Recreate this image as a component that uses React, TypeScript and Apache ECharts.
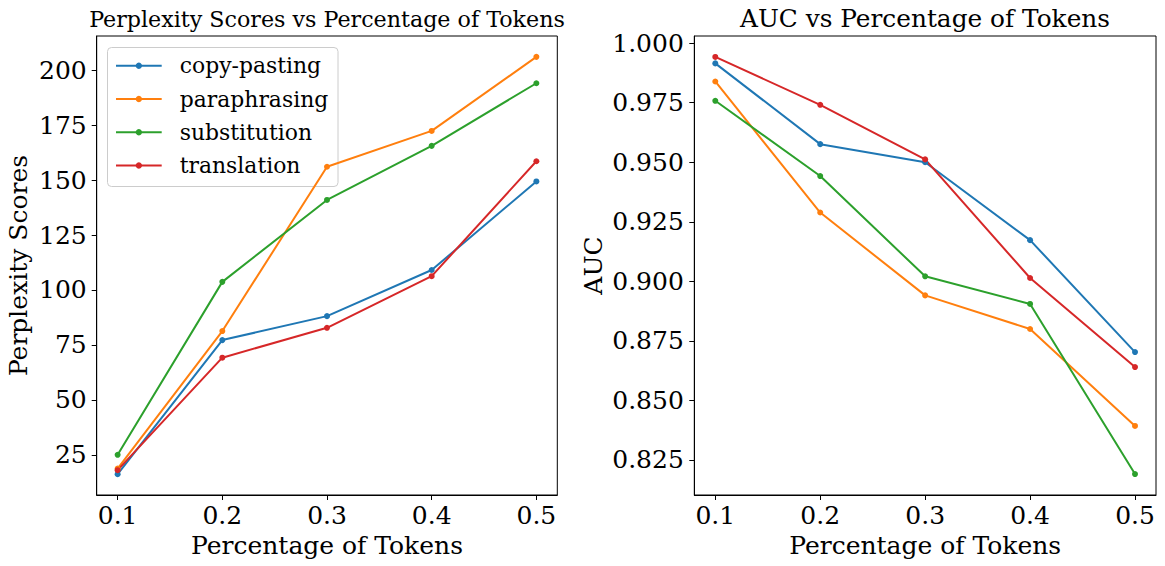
import React, { useEffect, useRef } from "react";
import * as echarts from "echarts";

const xValues = [0.1, 0.2, 0.3, 0.4, 0.5];
const seriesNames = ["copy-pasting", "paraphrasing", "substitution", "translation"];
const colors = ["#1f77b4", "#ff7f0e", "#2ca02c", "#d62728"];

const pplCopy = [16.2, 77.2, 88.1, 109.1, 149.4];
const pplPara = [18.7, 81.3, 156.1, 172.4, 206.1];
const pplSubst = [25.0, 103.7, 141.0, 165.6, 194.1];
const pplTrans = [18.0, 69.2, 82.8, 106.3, 158.6];

const aucCopy = [0.9915, 0.9576, 0.95, 0.9173, 0.8703];
const aucPara = [0.9839, 0.9289, 0.8941, 0.88, 0.8393];
const aucSubst = [0.9758, 0.9442, 0.9021, 0.8905, 0.8191];
const aucTrans = [0.9942, 0.9741, 0.9512, 0.9014, 0.864];

const xTicks = [0.1, 0.2, 0.3, 0.4, 0.5];
const pplTicks = [25, 50, 75, 100, 125, 150, 175, 200];
const aucTicks = [0.825, 0.85, 0.875, 0.9, 0.925, 0.95, 0.975, 1.0];

const FONT = "DejaVu Serif";
const TICK_FS = 25;
const LABEL_FS = 25;

export default function App() {
  const ref = useRef<HTMLDivElement>(null);
  useEffect(() => {
    if (!ref.current) return;
    const chart = echarts.init(ref.current, null, { renderer: "svg" });
    const pplData = [pplCopy, pplPara, pplSubst, pplTrans];
    const aucData = [aucCopy, aucPara, aucSubst, aucTrans];

    const mkX = (gridIndex: number) => ({
      type: "value",
      gridIndex,
      min: 0.08,
      max: 0.52,
      name: "Percentage of Tokens",
      nameLocation: "middle",
      nameGap: 35,
      nameTextStyle: { fontFamily: FONT, fontSize: LABEL_FS, color: "#000" },
      axisLine: { show: true, onZero: false, lineStyle: { color: "#000", width: 1 } },
      axisTick: { show: true, length: 5, lineStyle: { color: "#000", width: 1 }, customValues: xTicks },
      axisLabel: {
        show: true,
        margin: 8,
        customValues: xTicks,
        formatter: (v: number) => v.toFixed(1),
        fontFamily: FONT,
        fontSize: TICK_FS,
        color: "#000",
      },
      splitLine: { show: false },
    });

    const mkY = (gridIndex: number, min: number, max: number, ticks: number[], name: string, gap: number, dec: number, margin: number) => ({
      type: "value",
      gridIndex,
      min,
      max,
      name,
      nameLocation: "middle",
      nameGap: gap,
      nameRotate: 90,
      nameTextStyle: { fontFamily: FONT, fontSize: LABEL_FS, color: "#000" },
      axisLine: { show: true, onZero: false, lineStyle: { color: "#000", width: 1 } },
      axisTick: { show: true, length: 5, lineStyle: { color: "#000", width: 1 }, customValues: ticks },
      axisLabel: {
        show: true,
        margin,
        customValues: ticks,
        formatter: (v: number) => v.toFixed(dec),
        fontFamily: FONT,
        fontSize: TICK_FS,
        color: "#000",
      },
      splitLine: { show: false },
    });

    const series: any[] = [];
    pplData.forEach((vals, i) => {
      series.push({
        type: "line",
        name: seriesNames[i],
        xAxisIndex: 0,
        yAxisIndex: 0,
        data: xValues.map((x, j) => [x, vals[j]]),
        symbol: "circle",
        symbolSize: 6,
        showSymbol: true,
        lineStyle: { color: colors[i], width: 2 },
        itemStyle: { color: colors[i] },
      });
    });
    aucData.forEach((vals, i) => {
      series.push({
        type: "line",
        name: seriesNames[i],
        xAxisIndex: 1,
        yAxisIndex: 1,
        data: xValues.map((x, j) => [x, vals[j]]),
        symbol: "circle",
        symbolSize: 6,
        showSymbol: true,
        lineStyle: { color: colors[i], width: 2 },
        itemStyle: { color: colors[i] },
      });
    });

    chart.setOption({
      animation: false,
      backgroundColor: "#ffffff",
      grid: [
        { left: 96.7, top: 36, width: 460.6, height: 459, show: true, borderColor: "#000", borderWidth: 1, backgroundColor: "transparent" },
        { left: 694.3, top: 36, width: 461.7, height: 459, show: true, borderColor: "#000", borderWidth: 1, backgroundColor: "transparent" },
      ],
      xAxis: [mkX(0), mkX(1)],
      yAxis: [
        mkY(0, 6.7, 215.6, pplTicks, "Perplexity Scores", 66, 0, 10),
        mkY(1, 0.8103, 1.003, aucTicks, "AUC", 88, 3, 10.5),
      ],
      legend: {
        show: true,
        orient: "vertical",
        left: 110,
        top: 49.7,
        padding: 5,
        itemWidth: 45.7,
        itemHeight: 8,
        itemGap: 11.3,
        data: seriesNames,
        textStyle: { fontFamily: FONT, fontSize: 21.9, color: "#000", lineHeight: 22, padding: [0, 0, 0, 13] },
        selectedMode: false,
      },
      graphic: [
        {
          type: "rect",
          z: 3,
          shape: { x: 107.5, y: 47.5, width: 230.5, height: 139, r: 4 },
          style: { fill: "rgba(255,255,255,0.8)", stroke: "#cccccc", lineWidth: 1 },
        },
        {
          type: "text",
          z: 5,
          style: {
            text: "Perplexity Scores vs Percentage of Tokens",
            x: 327,
            y: 19.2,
            align: "center",
            verticalAlign: "middle",
            fontFamily: FONT,
            fontSize: 22.2,
            fill: "#000",
          },
        },
        {
          type: "text",
          z: 5,
          style: {
            text: "AUC vs Percentage of Tokens",
            x: 925,
            y: 18.8,
            align: "center",
            verticalAlign: "middle",
            fontFamily: FONT,
            fontSize: 24.8,
            fill: "#000",
          },
        },
      ],
      series,
    });
    return () => chart.dispose();
  }, []);
  return (
    <div
      ref={ref}
      style={{ position: "absolute", left: 0, top: 0, width: 1165, height: 566, background: "#fff" }}
    />
  );
}
